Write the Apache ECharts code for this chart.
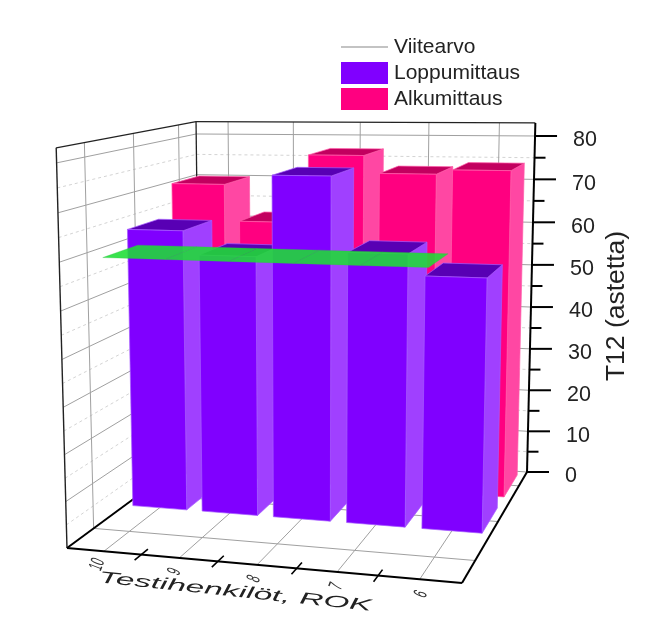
<!DOCTYPE html>
<html><head><meta charset="utf-8">
<style>html,body{margin:0;padding:0;background:#fff}#c{width:664px;height:627px}</style>
<script src="https://cdn.jsdelivr.net/npm/echarts@6/dist/echarts.min.js"></script>
</head><body><div id="c"></div>
<script>
var categories = ['10','9','8','7','6'];
var alkumittaus = [70,61.5,77,73,74];
var loppumittaus = [62.7,57.5,75,59,54.5];
var viitearvo = [58.7,58.7,58.7,58.7,58.7];
var majorTicks = [0,10,20,30,40,50,60,70,80];
var minorTicks = [5,15,25,35,45,55,65,75];
var depthLines = [0.17,0.5,0.85];
var zMax = 83;

var GL=100,GT=100,GW=400,GH=400;
var FONT='"Liberation Sans", Arial, sans-serif';
// floor corners and vertical column of the perspective camera
var A=[67,548],B=[462,583],C=[527,472],D=[200,450];
var cam=(function(){
  var dx1=B[0]-C[0],dy1=B[1]-C[1],dx2=D[0]-C[0],dy2=D[1]-C[1];
  var sx=A[0]-B[0]+C[0]-D[0],sy=A[1]-B[1]+C[1]-D[1];
  var det=dx1*dy2-dx2*dy1;
  var g=(sx*dy2-dx2*sy)/det,h=(dx1*sy-sx*dy1)/det;
  return {a:B[0]-A[0]+g*B[0],b:D[0]-A[0]+h*D[0],c:A[0],
          d:B[1]-A[1]+g*B[1],e:D[1]-A[1]+h*D[1],f:A[1],g:g,h:h,
          cx:-13.2,cy:-406.5,cw:-0.0426};
})();
function P(u,v,t){
  var w=cam.g*u+cam.h*v+1+cam.cw*t;
  return [(cam.a*u+cam.b*v+cam.c+cam.cx*t)/w,(cam.d*u+cam.e*v+cam.f+cam.cy*t)/w];
}
function uOf(api,i){return (api.coord([i,0])[0]-GL)/GW;}
function tOf(api,i,val){return (GT+GH-api.coord([i,val])[1])/GH;}
function poly(pts,fill,stroke){return {type:'polygon',shape:{points:pts},style:{fill:fill,stroke:stroke||fill,lineWidth:stroke?0.7:0}};}
function line(p,q,color,w,dash){return {type:'line',shape:{x1:p[0],y1:p[1],x2:q[0],y2:q[1]},style:{stroke:color,lineWidth:w,lineDash:dash||null,fill:null}};}

var halfBar=0.078;
function barSeries(name,values,v0,v1,front,side,top,edge){
  return {name:name,type:'custom',coordinateSystem:'cartesian2d',silent:true,
    itemStyle:{color:front},encode:{x:0,y:1},
    data:values.map(function(val,i){return [i,val];}),
    renderItem:function(p,api){
      var i=api.value(0),val=api.value(1),u=uOf(api,i),t=tOf(api,i,val);
      var u0=u-halfBar,u1=u+halfBar;
      return {type:'group',children:[
        poly([P(u1,v0,0),P(u1,v1,0),P(u1,v1,t),P(u1,v0,t)],side,edge),
        poly([P(u0,v0,t),P(u1,v0,t),P(u1,v1,t),P(u0,v1,t)],top,edge),
        poly([P(u0,v0,0),P(u1,v0,0),P(u1,v0,t),P(u0,v0,t)],front,edge)
      ]};
    }};
}
function helper(data,fn){
  return {type:'custom',coordinateSystem:'cartesian2d',silent:true,encode:{x:0,y:1},data:data,renderItem:fn};
}
var wallGridMinor=helper(minorTicks.map(function(v){return [0,v];}),function(p,api){
  var t=tOf(api,0,api.value(1));
  return {type:'group',children:[
    line(P(0,0,t),P(0,1,t),'#d4d4d4',1,[3,3]),
    line(P(0,1,t),P(1,1,t),'#d4d4d4',1,[3,3])]};
});
var wallGridMajor=helper(majorTicks.map(function(v){return [0,v];}),function(p,api){
  var t=tOf(api,0,api.value(1));
  return {type:'group',children:[
    line(P(0,0,t),P(0,1,t),'#a0a0a0',1),
    line(P(0,1,t),P(1,1,t),'#a0a0a0',1)]};
});
var catGrid=helper(categories.map(function(c,i){return [i,0];}),function(p,api){
  var u=uOf(api,api.value(0));
  return {type:'group',children:[
    line(P(u,0,0),P(u,1,0),'#a0a0a0',1),
    line(P(u,1,0),P(u,1,1),'#a0a0a0',1)]};
});
var depthGrid=helper(depthLines.map(function(d){return [0,d];}),function(p,api){
  var d=depthLines[p.dataIndex];
  return {type:'group',children:[
    line(P(0,d,0),P(1,d,0),'#a0a0a0',1),
    line(P(0,d,0),P(0,d,1),'#a0a0a0',1)]};
});
var frame=helper([[0,0]],function(){
  var k='#000';
  return {type:'group',children:[
    line(P(0,0,1),P(0,1,1),'#222',1.3),
    line(P(0,1,1),P(1,1,1),'#222',1.3),
    line(P(0,0,0),P(0,0,1),'#222',1.4),
    line(P(0,1,0),P(0,1,1),'#222',1.3),
    line(P(0,0,0),P(0,1,0),k,2),
    line(P(0,0,0),P(1,0,0),k,2),
    line(P(1,0,0),P(1,1,0),k,2),
    line(P(1,1,0),P(1,1,1),k,2)]};
});
var yTicksMajor=helper(majorTicks.map(function(v){return [0,v];}),function(p,api){
  var val=api.value(1),q=P(1,1,tOf(api,0,val));
  return {type:'group',children:[
    line(q,[q[0]+22,q[1]],'#000',2),
    {type:'text',x:q[0]+38,y:q[1]+4.5,style:{text:String(majorTicks[p.dataIndex]),font:'21.5px '+FONT,fill:'#222',textAlign:'left',textVerticalAlign:'middle'}}
  ]};
});
var yTicksMinor=helper(minorTicks.map(function(v){return [0,v];}),function(p,api){
  var q=P(1,1,tOf(api,0,api.value(1)));
  return line(q,[q[0]+11,q[1]],'#000',2);
});
var xTicks=helper(categories.slice(1).map(function(c,i){return [i,0];}),function(p,api){
  var u=uOf(api,api.value(0))+api.size([1,0])[0]/GW/2;
  return line(P(u,0.045,0),P(u,-0.045,0),'#000',1.6);
});
var xLabels=helper(categories.map(function(c,i){return [i,0];}),function(p,api){
  var i=api.value(0),q=P(uOf(api,i)+0.025,-0.1,0);
  return {type:'text',x:q[0],y:q[1],rotation:1.2,scaleX:0.68,scaleY:1.3,
    style:{text:categories[i],font:'15px '+FONT,fill:'#333',textAlign:'center',textVerticalAlign:'middle'}};
});
var ribbonStart=0.03,ribbonStep=0.168,ribbonV0=0.2,ribbonV1=0.44;
var ribbon={name:'Viitearvo',type:'custom',coordinateSystem:'cartesian2d',silent:true,encode:{x:0,y:1},
  itemStyle:{color:'#888'},
  data:viitearvo.map(function(v,i){return [i,v];}),
  renderItem:function(p,api){
    var i=api.value(0),t=tOf(api,i,api.value(1));
    var u0=ribbonStart+i*ribbonStep,u1=u0+ribbonStep;
    return {type:'polygon',shape:{points:[P(u0,ribbonV0,t),P(u1,ribbonV0,t),P(u1,ribbonV1,t),P(u0,ribbonV1,t)]},
      style:{fill:'rgba(28,222,52,0.88)',stroke:'rgba(50,190,70,0.5)',lineWidth:0.6}};
  }};

var chart=echarts.init(document.getElementById('c'),null,{renderer:'canvas'});
chart.setOption({
  animation:false,backgroundColor:'#fff',
  grid:{left:GL,top:GT,width:GW,height:GH,show:false},
  xAxis:{type:'category',data:categories,show:false},
  yAxis:{type:'value',min:0,max:zMax,show:false},
  legend:{orient:'vertical',left:341,top:36,padding:0,itemGap:4,itemWidth:47,itemHeight:22,
    textStyle:{fontFamily:FONT,fontSize:21,color:'#222',padding:[2,0,0,1]},selectedMode:false,
    data:[{name:'Viitearvo',icon:'path://M0,0L0,0Z M0,10.5H47V11.5H0Z M47,22L47,22Z',itemStyle:{color:'#888'}},
          {name:'Loppumittaus',icon:'rect'},{name:'Alkumittaus',icon:'rect'}]},
  graphic:[
    {type:'text',x:235,y:592,rotation:-0.105,scaleX:1.62,scaleY:0.8,
     style:{text:'Testihenkilöt, ROK',font:'italic 20.5px '+FONT,fill:'#222',textAlign:'center',textVerticalAlign:'middle'}},
    {type:'text',x:617,y:306,rotation:Math.PI/2,
     style:{text:'T12 (astetta)',font:'26.5px '+FONT,fill:'#222',textAlign:'center',textVerticalAlign:'middle'}}
  ],
  series:[wallGridMinor,wallGridMajor,catGrid,depthGrid,frame,yTicksMinor,yTicksMajor,xTicks,xLabels,
    barSeries('Alkumittaus',alkumittaus,0.73,0.96,'#FF0080','#FF47A3','#C2005F','#ff5aa8'),
    barSeries('Loppumittaus',loppumittaus,0.39,0.62,'#8000FF','#A040FF','#5800B4','#a55cff'),
    ribbon]
});
</script></body></html>
